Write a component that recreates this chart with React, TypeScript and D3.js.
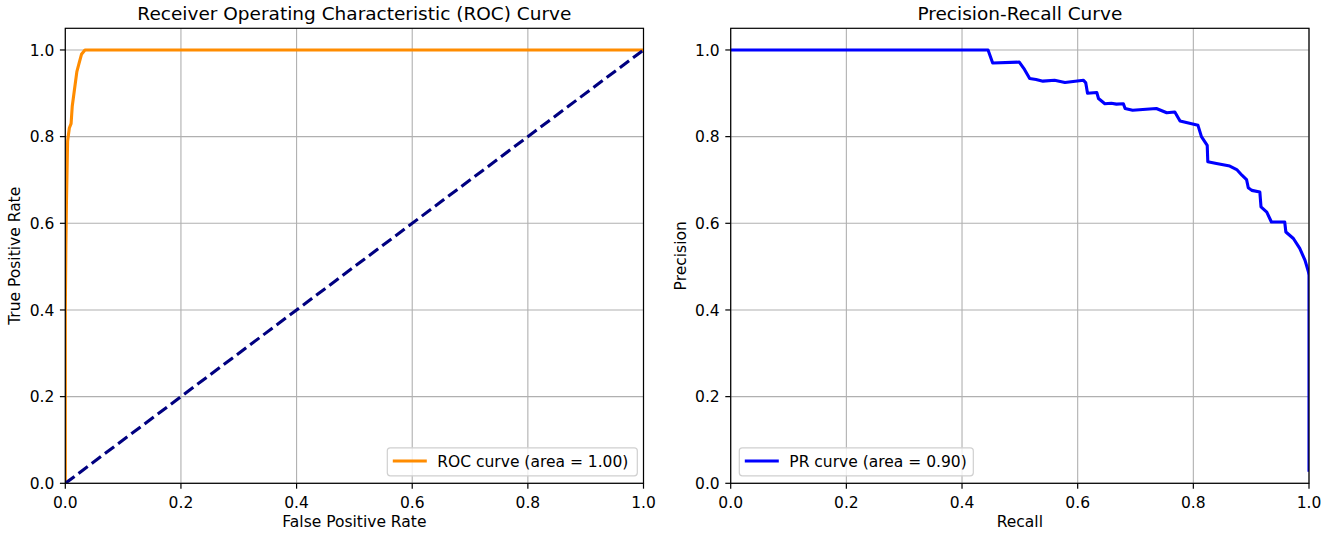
import React from "react";
import * as d3 from "d3";

const rocFpr = [0, 0, 0.001, 0.002, 0.003, 0.004, 0.007, 0.010, 0.012, 0.015, 0.018, 0.020, 0.024, 0.028, 0.034, 1.0];
const rocTpr = [0, 0.40, 0.55, 0.65, 0.72, 0.79, 0.82, 0.83, 0.87, 0.90, 0.93, 0.95, 0.97, 0.99, 1.0, 1.0];
const diagX = [0, 1];
const diagY = [0, 1];

const prRecall = [0, 0.445, 0.453, 0.499, 0.508, 0.517, 0.528, 0.540, 0.560, 0.578, 0.610, 0.614, 0.617, 0.633, 0.636, 0.647, 0.658, 0.667, 0.679, 0.682, 0.695, 0.736, 0.754, 0.768, 0.777, 0.808, 0.814, 0.824, 0.825, 0.840, 0.863, 0.875, 0.884, 0.892, 0.895, 0.901, 0.915, 0.917, 0.927, 0.935, 0.958, 0.960, 0.973, 0.984, 0.993, 0.999, 1.0, 1.0];
const prPrecision = [1.0, 1.0, 0.970, 0.972, 0.955, 0.934, 0.932, 0.928, 0.930, 0.925, 0.930, 0.924, 0.900, 0.902, 0.888, 0.876, 0.877, 0.875, 0.876, 0.865, 0.861, 0.865, 0.855, 0.857, 0.836, 0.826, 0.800, 0.780, 0.742, 0.738, 0.732, 0.724, 0.711, 0.701, 0.682, 0.676, 0.672, 0.638, 0.626, 0.603, 0.603, 0.580, 0.565, 0.542, 0.515, 0.488, 0.48, 0.030];

const tickValues = [0, 0.2, 0.4, 0.6, 0.8, 1.0];
const tickLabels = ["0.0", "0.2", "0.4", "0.6", "0.8", "1.0"];

const FONT = "DejaVu Sans, sans-serif";
const FS = 15.5;
const TITLE_FS = 18.5;
const TOP = 28.3;
const BOTTOM = 483.3;
const LW = 3.1;

type Series = { xs: number[]; ys: number[]; color: string; dash?: string };

function Panel(props: {
  left: number;
  right: number;
  title: string;
  xLabel: string;
  yLabel: string;
  series: Series[];
  legendLabel: string;
  legendColor: string;
  legendX: number;
  legendW: number;
}) {
  const { left, right, title, xLabel, yLabel, series, legendLabel, legendColor, legendX, legendW } = props;
  const x = d3.scaleLinear().domain([0, 1]).range([left, right]);
  const y = d3.scaleLinear().domain([0, 1.05]).range([BOTTOM, TOP]);
  const cx = (left + right) / 2;
  const cy = (TOP + BOTTOM) / 2;
  const legH = 28;
  const legY = 447.8;
  return (
    <g>
      <text x={cx} y={20} textAnchor="middle" fontSize={TITLE_FS} fontFamily={FONT} fill="#000">
        {title}
      </text>
      {tickValues.map((t, i) => (
        <g key={"g" + i}>
          <line x1={x(t)} x2={x(t)} y1={TOP} y2={BOTTOM} stroke="#b0b0b0" strokeWidth={1.1} />
          <line x1={left} x2={right} y1={y(t)} y2={y(t)} stroke="#b0b0b0" strokeWidth={1.1} />
        </g>
      ))}
      <defs>
        <clipPath id={"clip" + Math.round(left)}>
          <rect x={left} y={TOP} width={right - left} height={BOTTOM - TOP} />
        </clipPath>
      </defs>
      <g clipPath={`url(#clip${Math.round(left)})`}>
        {series.map((s, i) => {
          const pts: [number, number][] = s.xs.map((v, j) => [x(v), y(s.ys[j])]);
          const line = d3.line();
          return (
            <path
              key={i}
              d={line(pts) || ""}
              fill="none"
              stroke={s.color}
              strokeWidth={LW}
              strokeDasharray={s.dash}
              strokeLinejoin="round"
              strokeLinecap={s.dash ? "butt" : "square"}
            />
          );
        })}
      </g>
      <rect x={left} y={TOP} width={right - left} height={BOTTOM - TOP} fill="none" stroke="#000" strokeWidth={1.2} />
      {tickValues.map((t, i) => (
        <g key={"t" + i}>
          <line x1={x(t)} x2={x(t)} y1={BOTTOM} y2={BOTTOM + 5.4} stroke="#000" strokeWidth={1.2} />
          <text x={x(t)} y={507.5} textAnchor="middle" fontSize={FS} fontFamily={FONT} fill="#000">
            {tickLabels[i]}
          </text>
          <line x1={left} x2={left - 5.4} y1={y(t)} y2={y(t)} stroke="#000" strokeWidth={1.2} />
          <text x={left - 11} y={y(t) + 5.6} textAnchor="end" fontSize={FS} fontFamily={FONT} fill="#000">
            {tickLabels[i]}
          </text>
        </g>
      ))}
      <text x={cx} y={527} textAnchor="middle" fontSize={FS} fontFamily={FONT} fill="#000">
        {xLabel}
      </text>
      <text
        transform={`translate(${left - 45},${cy}) rotate(-90)`}
        textAnchor="middle"
        fontSize={FS}
        fontFamily={FONT}
        fill="#000"
      >
        {yLabel}
      </text>
      <g>
        <rect x={legendX} y={legY} width={legendW} height={legH} rx={3} ry={3} fill="#fff" fillOpacity={0.8} stroke="#d0d0d0" strokeWidth={1.2} />
        <line x1={legendX + 5.5} x2={legendX + 39.5} y1={legY + 13.2} y2={legY + 13.2} stroke={legendColor} strokeWidth={LW} />
        <text x={legendX + 50} y={legY + 19} fontSize={FS} fontFamily={FONT} fill="#000">
          {legendLabel}
        </text>
      </g>
    </g>
  );
}

export default function App() {
  return (
    <svg width={1322} height={533} style={{ position: "absolute", left: 0, top: 0, background: "#fff" }}>
      <rect x={0} y={0} width={1322} height={533} fill="#fff" />
      <Panel
        left={65.3}
        right={643.5}
        title="Receiver Operating Characteristic (ROC) Curve"
        xLabel="False Positive Rate"
        yLabel="True Positive Rate"
        series={[
          { xs: rocFpr, ys: rocTpr, color: "#ff8c00" },
          { xs: diagX, ys: diagY, color: "#000080", dash: "11.5,5" },
        ]}
        legendLabel="ROC curve (area = 1.00)"
        legendColor="#ff8c00"
        legendX={387.3}
        legendW={250}
      />
      <Panel
        left={730.7}
        right={1309}
        title="Precision-Recall Curve"
        xLabel="Recall"
        yLabel="Precision"
        series={[{ xs: prRecall, ys: prPrecision, color: "#0000ff" }]}
        legendLabel="PR curve (area = 0.90)"
        legendColor="#0000ff"
        legendX={739.3}
        legendW={234}
      />
    </svg>
  );
}
